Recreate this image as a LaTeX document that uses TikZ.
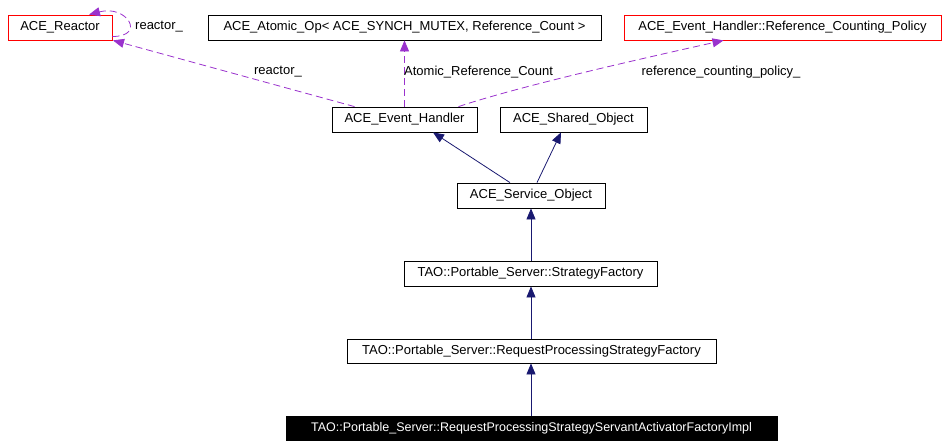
\documentclass[tikz,border=0pt]{standalone}
\usepackage{fontspec}
\setmainfont{Liberation Sans}
\usetikzlibrary{arrows.meta,calc}
\definecolor{navy}{HTML}{191970}
\definecolor{orchid}{HTML}{9A32CD}
\begin{document}
\begin{tikzpicture}[x=1pt,y=-1pt,
  box/.style={draw=black,line width=0.8pt,minimum height=25pt,inner sep=0pt,font=\fontsize{13}{15}\selectfont},
  redbox/.style={box,draw=red},
  inh/.style={draw=navy,line width=0.8pt,-{Triangle[length=11pt,width=9pt]},color=navy},
  dep/.style={draw=orchid,line width=0.8pt,dash pattern=on 7pt off 4pt,-{Triangle[length=11pt,width=9pt]},color=orchid},
  lbl/.style={font=\fontsize{13}{15}\selectfont,inner sep=0pt}]
\useasboundingbox (0,0) rectangle (952,447);
\node[redbox,minimum width=104pt] (reactor) at (60,27.5) {ACE\_Reactor};
\node[box,minimum width=393pt] (atomic) at (404.5,27.5) {ACE\_Atomic\_Op< ACE\_SYNCH\_MUTEX, Reference\_Count >};
\node[redbox,minimum width=317pt] (rcp) at (782.5,27.5) {ACE\_Event\_Handler::Reference\_Counting\_Policy};
\node[box,minimum width=145pt] (eh) at (404.5,119.5) {ACE\_Event\_Handler};
\node[box,minimum width=147pt] (so) at (573.5,119.5) {ACE\_Shared\_Object};
\node[box,minimum width=148pt] (svc) at (531,195.5) {ACE\_Service\_Object};
\node[box,minimum width=253pt] (sf) at (530.5,273.5) {TAO::Portable\_Server::StrategyFactory};
\node[box,minimum width=369pt,minimum height=24pt] (rpsf) at (531.5,351) {TAO::Portable\_Server::RequestProcessingStrategyFactory};
\node[box,fill=black,text=white,minimum width=491pt,minimum height=24pt,font=\fontsize{12.5}{15}\selectfont] (impl) at (531.5,428) {TAO::Portable\_Server::RequestProcessingStrategyServantActivatorFactoryImpl};
% inheritance
\draw[inh] ($(svc.north)+(-21,0)$) -- ($(eh.south)+(28.5,0)$);
\draw[inh] ($(svc.north)+(6,0)$) -- ($(so.south)+(-12.5,0)$);
\draw[inh] (sf.north -| svc.north) -- (svc.south);
\draw[inh] (rpsf.north -| svc.north) -- (sf.south -| svc.north);
\draw[inh] (impl.north -| svc.north) -- (rpsf.south -| svc.north);
% dependencies
\draw[dep] ($(reactor.east)+(0,9)$) .. controls +(34,0) and +(38,-10) .. ($(reactor.north)+(29,0)$);
\node[lbl,anchor=west] (l0) at (135,27) {reactor\_};
\draw[dep] ($(eh.north)+(-50,0)$) -- ($(reactor.south)+(53,0)$);
\node[lbl] (l1) at (278,72) {reactor\_};
\draw[dep] (eh.north) -- (atomic.south);
\node[lbl,anchor=west] (l2) at (404,72) {Atomic\_Reference\_Count};
\draw[dep] ($(eh.north)+(54,0)$) .. controls +(60,-20) and +(-90,20) .. ($(rcp.south)+(-59,0)$);
\node[lbl] (l3) at (721,72) {reference\_counting\_policy\_};
\end{tikzpicture}
\end{document}
